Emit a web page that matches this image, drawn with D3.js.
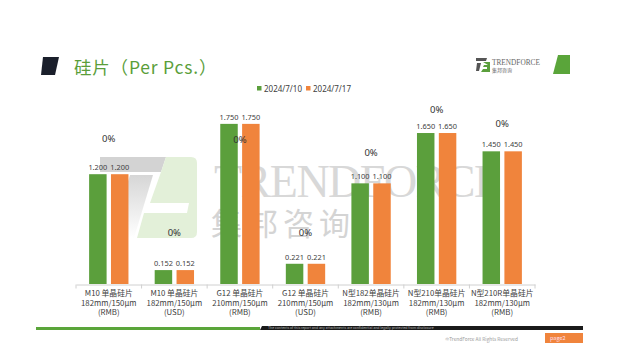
<!DOCTYPE html>
<html><head><meta charset="utf-8">
<script src="https://cdn.jsdelivr.net/npm/d3@7/dist/d3.min.js"></script>
<style>
html,body{margin:0;padding:0;background:#fff;}
svg{display:block;font-family:"Noto Sans CJK SC","Noto Sans",sans-serif;}
</style></head>
<body>
<svg id="c" width="617" height="362"></svg>
<script>
const categories = [
  ["M10 单晶硅片","182mm/150μm","(RMB)"],
  ["M10 单晶硅片","182mm/150μm","(USD)"],
  ["G12 单晶硅片","210mm/150μm","(RMB)"],
  ["G12 单晶硅片","210mm/150μm","(USD)"],
  ["N型182单晶硅片","182mm/130μm","(RMB)"],
  ["N型210单晶硅片","182mm/130μm","(RMB)"],
  ["N型210R单晶硅片","182mm/130μm","(RMB)"]
];
const seriesNames = ["2024/7/10","2024/7/17"];
const price0710 = [1.200,0.152,1.750,0.221,1.100,1.650,1.450];
const price0717 = [1.200,0.152,1.750,0.221,1.100,1.650,1.450];
const changePct = ["0%","0%","0%","0%","0%","0%","0%"];
const changeLabelAt = [1.60,0.57,1.59,0.57,1.44,1.91,1.76];
const colors = ["#5b9f3c","#f0843c"];

const svg = d3.select("#c");

// ---- watermark ----
const defs = svg.append("defs");
const gr = defs.append("linearGradient").attr("id","gfade").attr("x1",0).attr("y1",0).attr("x2",0).attr("y2",1);
gr.append("stop").attr("offset","0%").attr("stop-color","#d6d6d6");
gr.append("stop").attr("offset","100%").attr("stop-color","#ffffff");
const wm = svg.append("g");
wm.append("path").attr("d","M100,157 L166,157 L161,172 L100,172 Z").attr("fill","#d3d3d3");
wm.append("path").attr("d","M130,175 L153,175 L134,238 L110,238 Z").attr("fill","url(#gfade)");
wm.append("path").attr("d","M166,157 L191,157 Q197,157 197,163 L197,232 Q197,238 191,238 L137,238 L144,213 L187,213 L189,203 L150,203 L161,172 Z").attr("fill","#e3f0d9");
wm.append("text").attr("x",214).attr("y",197).attr("font-family","Liberation Serif, serif").attr("font-size",46).attr("fill","#d8d8d8").attr("letter-spacing",-1.5).text("TRENDFORCE");
wm.append("text").attr("x",211).attr("y",235).attr("font-size",31).attr("fill","#d4d4d4").attr("letter-spacing",5).text("集邦咨询");

// ---- title ----
svg.append("path").attr("d","M43,57 L59,57 L55,75 L41,75 Z").attr("fill","#1a1f2b");
svg.append("text").attr("x",74).attr("y",74).attr("font-size",17.5).attr("fill","#5a9e3a").attr("letter-spacing",0.8).text("硅片（Per Pcs.）");

// top-right logo
svg.append("path").attr("d","M476,58 L487,58 L486,61 L476,61 Z").attr("fill","#555");
svg.append("path").attr("d","M477,63 L481,63 L479,71 L476,71 Z").attr("fill","#555");
svg.append("path").attr("d","M483,62 L490,62 L490,72 L481,72 L483,69 L487,69 L487,67 L483,67 L484,65 L488,65 Z").attr("fill","#5b9f3c");
svg.append("text").attr("x",492).attr("y",65).attr("font-family","Liberation Serif, serif").attr("font-size",7.3).attr("fill","#666").text("TRENDFORCE");
svg.append("text").attr("x",492).attr("y",72).attr("font-size",5).attr("fill","#666").text("集邦咨询");
svg.append("path").attr("d","M558,55 L570,55 L570,74 L553,74 Z").attr("fill","#5aa53a");

// ---- scales ----
const x0 = d3.scaleBand().domain(d3.range(categories.length)).range([76,535]).padding(0);
const bw = x0.bandwidth();
const x1 = d3.scaleBand().domain(d3.range(seriesNames.length)).range([bw*0.2, bw*0.8]).paddingInner(0.2);
const y = d3.scaleLinear().domain([0,2]).range([284,101]);

const series = [price0710, price0717];

// axis
const xAxis = d3.axisBottom(x0).tickSize(0).tickFormat("");
const ax = svg.append("g").attr("transform","translate(0,284.5)").call(xAxis);
ax.select(".domain").attr("stroke","#d0d0d0");
ax.selectAll(".sep").data(d3.range(categories.length+1)).join("line")
  .attr("x1",i=>76+i*bw).attr("x2",i=>76+i*bw).attr("y1",0).attr("y2",4).attr("stroke","#d0d0d0");

// bars
const groups = svg.append("g").selectAll("g").data(categories.map((c,i)=>i)).join("g")
  .attr("transform",i=>`translate(${x0(i)},0)`);
groups.selectAll("rect").data(i=>series.map((s,k)=>({k,v:s[i]}))).join("rect")
  .attr("x",d=>x1(d.k)).attr("width",x1.bandwidth())
  .attr("y",d=>y(d.v)).attr("height",d=>y(0)-y(d.v)).attr("fill",d=>colors[d.k]);
groups.selectAll("text.val").data(i=>series.map((s,k)=>({k,v:s[i]}))).join("text").attr("class","val")
  .attr("x",d=>x1(d.k)+x1.bandwidth()/2).attr("y",d=>y(d.v)-4)
  .attr("text-anchor","middle").attr("font-size",7.4).attr("fill","#404040")
  .attr("font-family","Noto Sans, sans-serif").text(d=>d3.format(".3f")(d.v));
groups.append("text").attr("x",bw/2).attr("y",i=>y(changeLabelAt[i])+4)
  .attr("text-anchor","middle").attr("font-size",9.5).attr("fill","#333")
  .attr("font-family","Noto Sans, sans-serif").text(i=>changePct[i]);

// category labels
const cl = svg.append("g").selectAll("text").data(categories).join("text")
  .attr("x",(d,i)=>x0(i)+bw/2).attr("y",296).attr("text-anchor","middle")
  .attr("font-size",7.8).attr("fill","#404040");
cl.selectAll("tspan").data(d=>d).join("tspan")
  .attr("x",function(){return this.parentNode.getAttribute("x");})
  .attr("dy",(d,j)=>j===0?0:9.5).text(d=>d);

// legend
const lg = svg.append("g").attr("transform","translate(257,89)");
const li = lg.selectAll("g").data(seriesNames).join("g").attr("transform",(d,i)=>`translate(${i*49},0)`);
li.append("rect").attr("x",0).attr("y",-3).attr("width",4.5).attr("height",4.5).attr("fill",(d,i)=>colors[i]);
li.append("text").attr("x",7).attr("y",2.5).attr("font-size",8).attr("fill","#404040")
  .attr("font-family","Noto Sans, sans-serif").text(d=>d);

// footer
svg.append("rect").attr("x",36).attr("y",327).attr("width",224).attr("height",3).attr("fill","#5aa53a");
svg.append("path").attr("d","M262,326 L583,326 L583,330 L260,330 Z").attr("fill","#1a1a1a");
svg.append("text").attr("x",268).attr("y",329.3).attr("font-size",3.5).attr("fill","#bbb")
  .text("The contents of this report and any attachments are confidential and legally protected from disclosure");
svg.append("text").attr("x",518).attr("y",340.5).attr("text-anchor","end").attr("font-size",4.8).attr("fill","#999")
  .text("©TrendForce All Rights Reserved");
svg.append("rect").attr("x",545).attr("y",333).attr("width",38).attr("height",10).attr("fill","#f0843c");
svg.append("text").attr("x",550).attr("y",340).attr("font-size",5.5).attr("fill","#fde").text("page2");
</script>
</body></html>
